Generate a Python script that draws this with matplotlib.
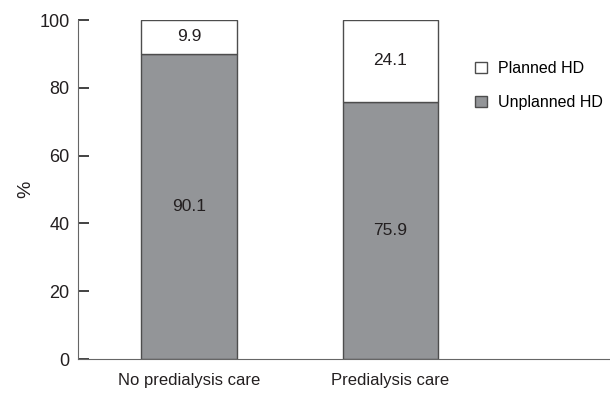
import matplotlib.pyplot as plt
import numpy as np

plt.rcParams['font.family'] = ['Liberation Sans', 'DejaVu Sans']

# Data
groups = ["No predialysis care", "Predialysis care"]
unplanned = [90.1, 75.9]
planned = [9.9, 24.1]

x = np.arange(len(groups))

fig = plt.figure(figsize=(6.10, 3.93), dpi=100)
ax = fig.add_axes([0.128, 0.0865, 0.870, 0.8625])

ax.bar(x, unplanned, width=0.475, color="#939598", edgecolor="#4d4d4d",
       linewidth=1.0, label="Unplanned HD")
ax.bar(x, planned, width=0.475, bottom=unplanned, color="white",
       edgecolor="#4d4d4d", linewidth=1.0, label="Planned HD")

# value labels centred in each segment
for i in range(len(groups)):
    ax.text(x[i], unplanned[i] / 2, f"{unplanned[i]:.1f}", ha="center",
            va="center", fontsize=12.5, color="#231f20")
    ax.text(x[i], unplanned[i] + planned[i] / 2, f"{planned[i]:.1f}",
            ha="center", va="center", fontsize=12.5, color="#231f20")

ax.set_xlim(-0.55, 2.084)
ax.set_ylim(0, 100)
ax.set_yticks([0, 20, 40, 60, 80, 100])
ax.set_xticks(x)
ax.set_xticklabels(groups)
ax.set_ylabel("%", fontsize=14, color="#231f20", labelpad=4)

for side in ["top", "right"]:
    ax.spines[side].set_visible(False)
ax.spines["left"].set_color("#666666")
ax.spines["bottom"].set_color("#666666")
ax.tick_params(axis="y", direction="in", length=8, width=1.2, color="#222222",
               labelsize=13, labelcolor="#231f20", pad=6)
ax.tick_params(axis="x", length=0, labelsize=12, labelcolor="#231f20", pad=10)

handles, labels = ax.get_legend_handles_labels()
ax.legend(handles[::-1], labels[::-1], loc="upper left",
          bbox_to_anchor=(0.748, 0.879), frameon=False, fontsize=11.5,
          borderpad=0, borderaxespad=0,
          handlelength=0.75, handleheight=0.7, handletextpad=0.7,
          labelspacing=1.2)

plt.savefig("out.png", dpi=100)
